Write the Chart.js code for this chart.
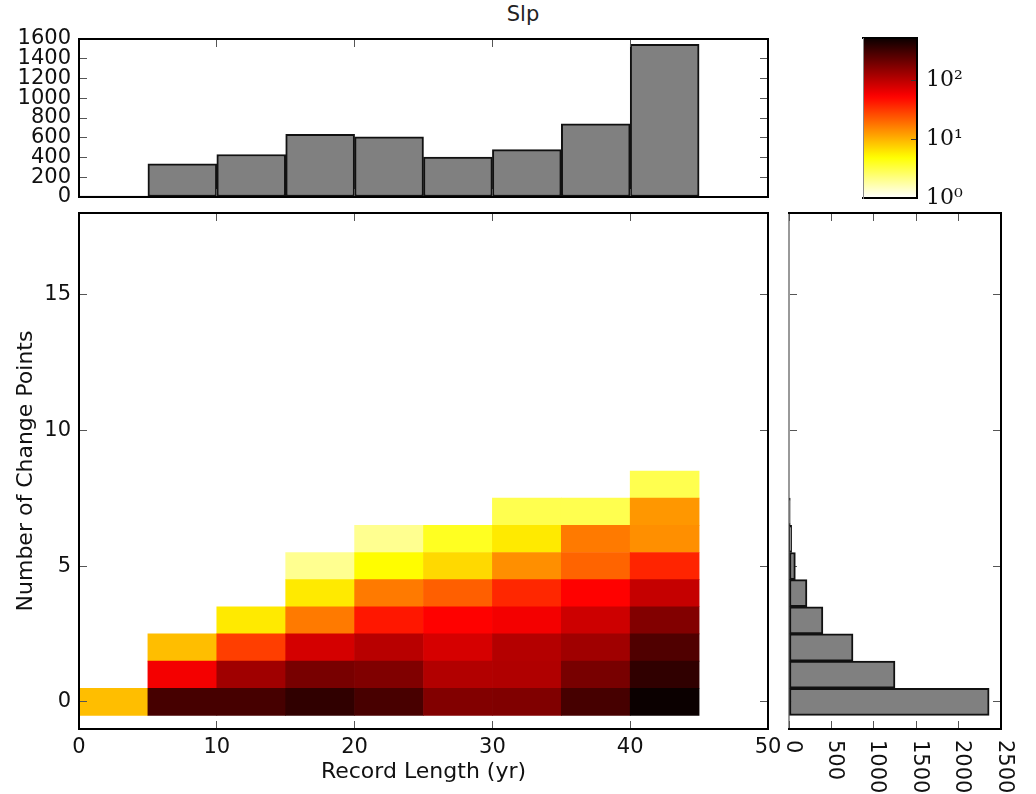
<!DOCTYPE html>
<html>
<head>
<meta charset="utf-8">
<title>Slp</title>
<script src="https://cdn.jsdelivr.net/npm/chart.js@4"></script>
<style>
  html, body { margin: 0; padding: 0; background: #fff; width: 1036px; height: 794px; overflow: hidden; }
  canvas { position: absolute; left: 0; top: 0; }
  #title { position: absolute; left: 423px; width: 200px; top: 2px; height: 24px; line-height: 24px; text-align: center; font: 21px "DejaVu Sans"; color: #222; }
</style>
</head>
<body>
<div id="title">Slp</div>
<canvas id="top" width="1036" height="794"></canvas>
<canvas id="main" width="1036" height="794"></canvas>
<canvas id="side" width="1036" height="794"></canvas>
<canvas id="bar" width="1036" height="794"></canvas>
<script>
// record length bins (centres) and number of change points
var binCentres = [2.5, 7.5, 12.5, 17.5, 22.5, 27.5, 32.5, 37.5, 42.5];
var rowValues = [0, 1, 2, 3, 4, 5, 6, 7, 8];

// counts per cell, one list per row of the 2d histogram
var row0 = [9, 301, 301, 370, 295, 172, 175, 301, 525];
var row1 = [null, 59, 130, 189, 175, 110, 112, 189, 370];
var row2 = [null, 9, 30, 80, 104, 78, 108, 130, 275];
var row3 = [null, null, 6, 17, 43, 53, 59, 85, 172];
var row4 = [null, null, null, 6, 17, 22, 37, 53, 92];
var row5 = [null, null, null, 2, 5, 7, 14, 21, 38];
var row6 = [null, null, null, null, 2, 4, 6, 17, 14];
var row7 = [null, null, null, null, null, null, 3, 3, 13];
var row8 = [null, null, null, null, null, null, null, null, 3];
var rows = [row0, row1, row2, row3, row4, row5, row6, row7, row8];

// marginals
var lengthCounts = [10, 335, 430, 635, 610, 405, 480, 740, 1545];
var changeCounts = [2360, 1250, 755, 400, 212, 75, 31, 15];

// ticks
var lengthTicks = [0, 10, 20, 30, 40, 50];
var changeTicks = [0, 5, 10, 15];
var topCountTicks = [0, 200, 400, 600, 800, 1000, 1200, 1400, 1600];
var sideCountTicks = [0, 500, 1000, 1500, 2000, 2500];
var colorTicks = [1, 10, 100];
var colorLabels = { 1: "10\u2070", 10: "10\u00b9", 100: "10\u00b2" };
var colorMax = 525;

Chart.defaults.font.family = '"DejaVu Sans"';
Chart.defaults.font.size = 21;
Chart.defaults.color = "#111";
Chart.defaults.animation = false;
Chart.defaults.responsive = false;
Chart.defaults.plugins.legend.display = false;
Chart.defaults.plugins.tooltip.enabled = false;

// matplotlib hot colormap, reversed
function hotR(t) {
  var x = 1 - t;
  var r = Math.min(1, 0.0416 + x * 0.9584 / 0.365);
  var g = Math.max(0, Math.min(1, (x - 0.365) / 0.381));
  var b = Math.max(0, Math.min(1, (x - 0.746) / 0.254));
  return "rgb(" + Math.round(r * 255) + "," + Math.round(g * 255) + "," + Math.round(b * 255) + ")";
}
function countColor(v) {
  return hotR(Math.log(v) / Math.log(colorMax));
}

function fixedTicks(values) {
  return function (scale) {
    scale.ticks = values.map(function (value) { return { value: value }; });
  };
}
function sized(prop, size) {
  return function (scale) { scale[prop] = size; };
}
function plainLabel(v) { return String(v); }

// one axis with inward ticks, like the frame of a matplotlib panel
function axis(position, min, max, values, size, extra) {
  var horizontal = position === "top" || position === "bottom";
  var cfg = {
    type: "linear",
    position: position,
    min: min,
    max: max,
    offset: false,
    afterBuildTicks: fixedTicks(values),
    afterFit: sized(horizontal ? "height" : "width", size),
    border: { display: true, color: "#000", width: 2, z: 2 },
    grid: { offset: false, drawOnChartArea: false, drawTicks: true, tickLength: -8, tickWidth: 1, tickColor: "#555", z: 1 },
    ticks: { display: false, autoSkip: false, maxRotation: 0, minRotation: 0, callback: plainLabel }
  };
  return Object.assign(cfg, extra || {});
}
function labelled(padding) {
  return { display: true, autoSkip: false, maxRotation: 0, minRotation: 0, padding: padding, callback: plainLabel };
}

// top histogram
new Chart(document.getElementById("top"), {
  type: "bar",
  data: {
    labels: binCentres,
    datasets: [{
      data: lengthCounts,
      backgroundColor: "#808080",
      borderColor: "#111",
      borderWidth: 2,
      borderSkipped: false,
      barPercentage: 1,
      categoryPercentage: 1
    }]
  },
  options: {
    layout: { padding: { left: 0, right: 268, top: 39, bottom: 597 } },
    scales: {
      x: axis("bottom", 0, 50, lengthTicks, 0),
      x2: axis("top", 0, 50, lengthTicks, 0),
      y: axis("left", 0, 1600, topCountTicks, 79, { ticks: labelled(16) }),
      y2: axis("right", 0, 1600, topCountTicks, 0)
    }
  }
});

// 2d histogram
new Chart(document.getElementById("main"), {
  type: "bar",
  data: {
    labels: binCentres,
    datasets: rows.map(function (counts, r) {
      return {
        data: counts.map(function (v) {
          return v === null ? null : [rowValues[r] - 0.5, rowValues[r] + 0.5];
        }),
        backgroundColor: counts.map(function (v) {
          return v === null ? "transparent" : countColor(v);
        }),
        borderWidth: 0,
        grouped: false,
        barPercentage: 1,
        categoryPercentage: 1
      };
    })
  },
  options: {
    layout: { padding: { left: 0, right: 268, top: 213, bottom: 0 } },
    scales: {
      x: axis("bottom", 0, 50, lengthTicks, 65, {
        ticks: labelled(14),
        title: { display: true, text: "Record Length (yr)", color: "#111", font: { size: 22 }, padding: { top: 0, bottom: 9 } }
      }),
      x2: axis("top", 0, 50, lengthTicks, 0),
      y: axis("left", -1, 18, changeTicks, 79, {
        ticks: labelled(16),
        title: { display: true, text: "Number of Change Points", color: "#111", font: { size: 22 }, padding: { top: 13, bottom: 0 } }
      }),
      y2: axis("right", -1, 18, changeTicks, 0)
    }
  }
});

// rotated count labels under the side histogram
var rotatedLabels = {
  id: "rotatedLabels",
  afterDraw: function (chart) {
    var scale = chart.scales.x;
    var ctx = chart.ctx;
    sideCountTicks.forEach(function (v) {
      ctx.save();
      ctx.translate(scale.getPixelForValue(v) + 3, 740);
      ctx.rotate(Math.PI / 2);
      ctx.font = '21px "DejaVu Sans"';
      ctx.fillStyle = "#111";
      ctx.textAlign = "left";
      ctx.textBaseline = "middle";
      ctx.fillText(String(v), 0, 0);
      ctx.restore();
    });
  }
};

// side histogram
new Chart(document.getElementById("side"), {
  type: "bar",
  plugins: [rotatedLabels],
  data: {
    labels: rowValues.slice(0, changeCounts.length),
    datasets: [{
      data: changeCounts,
      backgroundColor: "#808080",
      borderColor: "#111",
      borderWidth: 2,
      borderSkipped: false,
      barPercentage: 1,
      categoryPercentage: 1
    }]
  },
  options: {
    indexAxis: "y",
    layout: { padding: { left: 789, right: 35, top: 213, bottom: 65 } },
    scales: {
      x: axis("bottom", 0, 2500, sideCountTicks, 0),
      x2: axis("top", 0, 2500, sideCountTicks, 0),
      y: axis("left", -1, 18, changeTicks, 0, {
        border: { display: true, color: "#999", width: 2, z: 0 },
        grid: { offset: false, drawOnChartArea: false, drawTicks: true, tickLength: -8, tickWidth: 1, tickColor: "#555", z: 0 }
      }),
      y2: axis("right", -1, 18, changeTicks, 0)
    }
  }
});

// colour bar
new Chart(document.getElementById("bar"), {
  type: "bar",
  data: {
    labels: [0.5],
    datasets: [{
      xAxisID: "x",
      yAxisID: "y",
      data: [[1, colorMax]],
      borderWidth: 0,
      barPercentage: 1,
      categoryPercentage: 1,
      backgroundColor: function (ctx) {
        var area = ctx.chart.chartArea;
        if (!area) return "#808080";
        var g = ctx.chart.ctx.createLinearGradient(0, area.bottom, 0, area.top);
        for (var i = 0; i <= 40; i++) {
          g.addColorStop(i / 40, hotR(i / 40));
        }
        return g;
      }
    }]
  },
  options: {
    layout: { padding: { left: 863, right: 0, top: 38, bottom: 596 } },
    scales: {
      x: axis("bottom", 0, 1, [], 0),
      x2: axis("top", 0, 1, [], 0),
      y: {
        type: "logarithmic",
        position: "right",
        min: 1,
        max: colorMax,
        afterBuildTicks: fixedTicks(colorTicks),
        afterFit: sized("width", 119),
        border: { display: true, color: "#000", width: 2, z: 2 },
        grid: { offset: false, drawOnChartArea: false, drawTicks: true, tickLength: -6, tickWidth: 1, tickColor: "#333", z: 1 },
        ticks: {
          padding: 15,
          autoSkip: false,
          font: { family: '"DejaVu Serif"', size: 22 },
          callback: function (v) { return colorLabels[v]; }
        }
      },
      y2: axis("left", 0, 1, [], 0, { border: { display: true, color: "#888", width: 1, z: 2 } })
    }
  }
});
</script>
</body>
</html>
